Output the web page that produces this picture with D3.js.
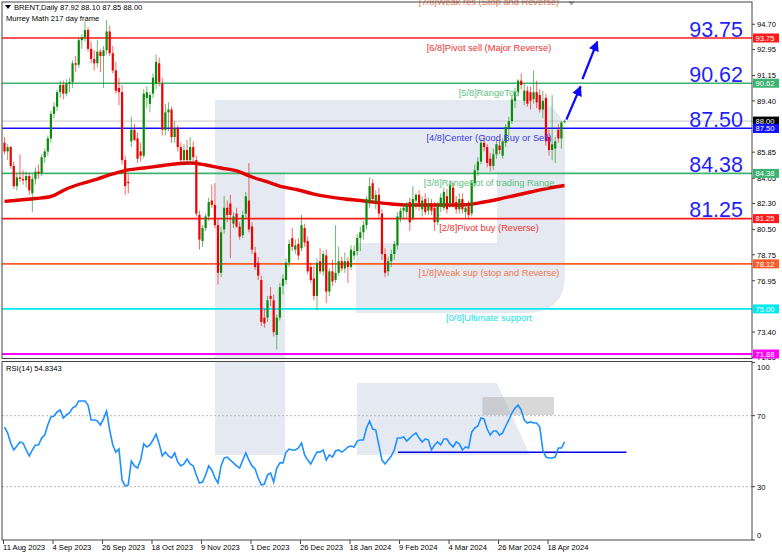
<!DOCTYPE html>
<html><head><meta charset="utf-8">
<script src="https://cdn.jsdelivr.net/npm/d3@7"></script>
<style>body{margin:0;background:#fff}svg{display:block}text{font-family:"Liberation Sans",Arial,sans-serif}</style>
</head><body><svg id="c" width="782" height="556"></svg>
<script>
// ---------------- DATA ----------------
const opens=[86.5,85.9,86.2,84.9,83.5,84.1,84.0,83.9,84.2,83.0,84.0,84.5,84.4,85.5,85.9,86.8,88.5,89.0,90.0,90.5,89.9,90.6,90.7,92.0,91.9,93.6,93.8,94.3,93.0,92.3,92.0,92.8,92.5,92.9,94.2,92.7,91.5,90.3,90.0,85.3,83.8,86.6,87.4,86.8,85.9,85.6,89.6,89.2,89.9,90.6,92.0,90.6,87.4,88.6,88.8,86.9,87.5,86.2,85.3,86.0,85.3,86.2,85.3,81.5,79.7,80.6,81.4,82.5,82.2,80.8,77.5,80.5,82.0,82.3,80.9,81.6,80.7,80.1,81.6,82.5,80.7,78.9,78.2,77.0,74.4,74.4,75.9,75.6,73.2,74.4,76.6,77.0,78.2,79.9,79.1,79.5,79.2,80.6,79.7,77.9,77.1,75.9,78.3,77.6,78.7,76.2,77.6,77.0,77.5,78.3,77.8,78.3,77.9,78.7,79.0,79.9,80.3,80.8,82.4,83.7,82.4,82.9,81.6,78.8,77.6,78.3,78.8,79.4,81.3,81.8,81.7,82.4,81.3,82.5,82.9,81.9,82.6,81.8,82.3,82.0,81.0,82.1,82.0,82.8,82.3,83.4,82.4,81.9,82.6,81.7,82.1,81.6,83.7,84.6,85.2,86.5,86.2,85.4,84.9,85.7,86.3,85.6,86.5,87.5,88.0,89.4,90.0,90.8,89.4,90.1,90.0,89.5,90.0,89.8,88.8,89.6,86.9,86.0,86.1,87.4,86.8,87.92];
const highs=[86.9,86.4,86.3,85.2,84.4,85.7,84.6,84.5,84.4,84.3,84.8,85.0,85.7,86.1,87.0,88.7,89.3,90.2,90.8,90.8,90.9,91.0,92.2,92.5,93.8,94.0,94.9,94.5,93.5,92.9,93.6,93.0,93.2,95.0,94.6,93.2,92.1,91.0,90.5,85.6,84.3,88.3,87.8,87.2,86.5,90.2,90.4,90.0,91.3,92.6,92.4,91.0,89.2,89.3,89.0,88.0,87.7,86.5,86.4,86.7,86.9,86.6,85.6,81.8,80.8,81.6,82.7,83.6,83.7,81.2,80.7,82.8,82.5,82.9,81.7,82.0,81.0,81.8,83.1,85.1,81.0,79.3,78.6,77.3,75.0,75.9,76.5,76.0,74.6,76.8,77.4,78.5,79.8,80.6,79.8,79.9,81.5,80.9,80.0,78.2,78.0,78.5,79.2,79.0,79.1,77.8,78.4,80.8,79.3,78.6,78.9,78.6,79.4,79.4,80.2,80.7,81.1,82.8,84.1,84.0,83.2,83.4,81.9,79.2,78.6,79.1,79.7,81.7,82.0,82.3,82.4,82.7,83.5,83.0,83.2,82.8,83.0,82.7,82.6,82.4,82.4,83.0,83.4,83.3,83.9,83.7,82.8,83.0,83.0,82.3,82.5,83.9,85.0,85.5,86.8,87.0,86.4,85.8,86.1,86.7,86.8,86.8,87.8,88.3,89.8,90.3,90.9,91.3,90.6,90.4,90.4,91.5,90.8,90.2,90.1,89.9,87.4,89.8,86.9,87.8,88.0,88.10];
const lows=[85.7,85.3,84.7,83.3,83.2,83.8,83.6,83.4,82.9,81.7,83.6,84.0,84.2,85.1,85.6,86.5,88.2,88.7,89.6,89.5,89.7,90.0,90.3,91.4,91.7,93.0,93.5,92.8,92.0,91.5,91.7,91.4,90.3,92.6,92.5,91.3,89.9,89.1,85.0,82.9,83.0,86.2,86.6,85.1,85.2,85.4,88.9,88.6,89.6,90.2,90.4,87.0,87.0,87.3,86.5,86.5,85.9,85.0,84.9,85.0,85.0,85.2,81.4,79.1,79.3,80.4,81.1,82.0,80.6,76.7,77.2,80.2,81.0,78.5,80.6,80.6,79.8,79.9,81.3,80.3,78.8,77.7,77.0,73.8,73.7,74.1,75.2,73.1,72.2,74.2,76.0,76.7,77.9,79.0,78.8,78.4,79.0,79.3,77.4,76.8,75.6,74.9,77.4,77.3,75.4,75.9,76.6,76.8,77.3,77.6,77.5,76.8,77.7,78.4,78.7,79.0,79.8,80.5,82.0,82.3,81.9,81.3,78.4,77.2,77.3,77.9,78.4,79.1,81.0,81.2,81.3,80.4,81.1,81.9,81.8,81.4,81.5,81.5,81.5,80.4,80.8,81.7,81.8,81.6,82.0,82.0,81.6,81.6,81.6,81.3,81.2,81.4,83.4,84.2,85.0,85.9,84.8,84.5,84.6,85.4,85.7,85.4,86.2,87.0,87.8,88.9,89.7,90.2,89.1,89.0,88.8,89.2,88.9,88.6,88.2,86.3,85.6,85.3,85.1,86.5,86.1,87.85];
const closes=[85.9,86.2,84.9,83.5,84.1,84.0,83.9,84.2,83.2,84.0,84.5,84.4,85.5,85.9,86.8,88.5,89.0,90.0,90.5,89.9,90.6,90.7,92.0,91.9,93.6,93.8,94.3,93.0,92.3,92.0,92.8,92.5,92.9,94.2,92.7,91.5,90.1,90.0,85.3,83.5,83.7,87.4,86.7,85.4,85.6,89.9,90.0,89.8,91.0,92.1,90.7,87.4,88.6,88.8,86.9,87.5,86.2,85.3,86.0,85.3,86.2,85.5,81.6,79.8,80.6,81.4,82.4,82.2,80.8,77.5,80.3,82.0,81.5,81.5,81.4,80.7,80.0,81.5,82.8,80.5,79.1,77.9,77.3,74.1,74.0,75.6,75.7,73.4,74.4,76.5,77.1,78.2,79.5,79.3,79.4,78.7,80.8,79.6,77.6,77.0,75.9,78.2,77.6,78.8,76.2,77.6,76.9,77.5,78.3,77.8,78.3,77.9,79.1,79.0,79.9,80.3,80.8,82.6,83.5,82.6,82.9,81.6,78.8,77.5,78.3,78.8,79.5,81.4,81.8,82.0,82.2,81.0,82.6,82.9,82.2,82.5,81.7,82.3,81.8,81.0,82.2,82.7,83.1,81.9,83.6,82.3,81.9,82.6,81.9,82.0,81.5,83.7,84.6,85.2,86.5,86.2,85.1,84.9,85.7,86.4,86.0,86.6,87.6,88.0,89.5,90.0,90.8,90.5,90.1,89.2,89.4,90.0,89.3,88.8,89.4,86.6,86.0,86.4,86.6,86.8,87.9,88.00];
// 200-day moving average, read weekly (bar index, value)
const maBars=[0,5,10,15,20,25,30,35,40,45,50,55,60,65,70,75,80,85,90,95,100,105,110,115,120,125,130,135,140,145,150,155,160,165,170,175,180,181];
const maValues=[82.44,82.54,82.64,82.78,83.30,83.68,83.99,84.34,84.62,84.75,84.89,85.03,85.10,84.96,84.75,84.55,84.13,83.79,83.44,83.23,82.95,82.75,82.61,82.50,82.37,82.26,82.19,82.19,82.19,82.19,82.23,82.40,82.61,82.85,83.09,83.33,83.51,83.54];
const rsiValues=[63.6,60.3,54.6,50.7,52.9,55.2,54.6,50.7,47.3,50.7,53.5,53.5,57.4,59.1,64.8,69.3,69.8,72.1,73.2,68.7,70.4,71.5,74.3,75.4,78.3,78.3,78.3,76.0,67.6,67.6,67.0,64.8,68.2,72.6,61.9,53.5,49.5,51.2,33.8,30.4,31.0,44.5,41.7,40.5,45.0,54.1,52.4,53.5,56.3,59.7,54.1,47.3,49.5,47.3,46.2,49.0,43.9,41.7,42.8,45.6,42.8,41.7,36.6,32.1,32.6,36.6,41.7,39.4,34.9,32.1,41.7,46.2,46.7,45.0,43.4,41.7,40.5,45.0,49.0,45.0,41.7,40.0,34.9,31.0,31.5,36.6,37.7,32.6,40.5,43.4,43.4,49.5,51.2,50.7,50.7,51.8,54.6,47.9,45.0,42.8,46.2,49.5,49.5,50.7,45.0,47.9,46.7,50.1,50.7,49.5,50.7,52.4,52.9,52.4,55.7,56.3,56.3,63.1,67.0,62.5,61.9,53.5,45.0,42.8,45.0,47.3,50.7,57.4,57.4,58.0,55.7,57.4,59.1,60.3,57.4,55.2,56.9,56.3,50.7,53.5,55.2,53.5,56.9,56.9,54.1,52.4,55.2,54.1,50.7,52.4,51.8,60.8,63.1,64.2,68.7,68.2,62.5,59.1,61.4,61.4,59.1,60.3,64.2,67.6,71.5,74.3,76.0,73.2,67.6,65.9,66.5,65.9,65.9,63.6,50.7,46.7,46.2,46.2,46.7,51.8,51.8,55.2];
const levelValues=[96.88,93.75,90.62,87.50,84.38,81.25,78.12,75.00,71.88];
const levelNames=["[7/8]Weak res (Stop and Reverse)","[6/8]Pivot sell (Major Reverse)","[5/8]RangeTop","[4/8]Center (Good Buy or Sell)","[3/8]RangeBot of trading Range","[2/8]Pivot buy (Reverse)","[1/8]Weak sup (stop and Reverse)","[0/8]Ultimate support","[-1/8]buy (Oversold)"];
const bigLabels=[93.75,90.62,87.50,84.38,81.25];
const priceTicks=[94.70,92.95,91.15,89.40,85.85,84.05,82.30,80.50,78.75,76.95,73.40,71.65];
const rsiTicks=[100,70,30,0];
const dateBars=[0,16,32,48,64,80,96,112,128,144,160,176];
const dateLabels=["11 Aug 2023","4 Sep 2023","26 Sep 2023","18 Oct 2023","9 Nov 2023","1 Dec 2023","26 Dec 2023","18 Jan 2024","9 Feb 2024","4 Mar 2024","26 Mar 2024","18 Apr 2024"];
const lastPrice=88.00;
const header="BRENT,Daily  87.92 88.10 87.85 88.00";
const rsiHeader="RSI(14) 54.8343";
const arrows=[{b0:181.6,p0:88.1,b1:186.2,p1:90.4},{b0:186.8,p0:90.9,b1:191.6,p1:93.5}];
const rsiSupport={b0:127.2,b1:201,v:49.4};
const rsiBox={b0:154.5,b1:177.6,v0:70.4,v1:80.5};
const labelBar=156.6;

// ---------------- DRAW ----------------
const svg=d3.select("#c");
const L=2,R=752,mT=2,mB=358.5,rT=361.5,rB=540;
const x=d3.scaleLinear().domain([0,241.6]).range([4.5,752]);
const y=d3.scaleLinear().domain([71.88,93.75]).range([354,38]);
const yr=d3.scaleLinear().domain([30,70]).range([486.7,415.7]);
const levelColors=["#ff5a2a","#ff1a1a","#3cb371","#1010ff","#3cb371","#ff1a1a","#ff5a2a","#00e8f0","#ff00ff"];
const levelText=["#f07850","#ee3030","#5cbf80","#3a3ae8","#5cbf80","#ee3030","#f07850","#20e0e8","#e020e0"];

svg.append("rect").attr("width",782).attr("height",556).attr("fill","#fff");
const defs=svg.append("defs");
defs.append("clipPath").attr("id","cm").append("rect").attr("x",L).attr("y",mT).attr("width",R-L).attr("height",mB-mT);
defs.append("clipPath").attr("id","cr").append("rect").attr("x",L).attr("y",rT).attr("width",R-L).attr("height",rB-rT);
defs.append("marker").attr("id","ah").attr("viewBox","0 0 10 10").attr("refX",9).attr("refY",5)
  .attr("markerWidth",4.5).attr("markerHeight",4.5).attr("orient","auto")
  .append("path").attr("d","M0,0L10,5L0,10z").attr("fill","#0a0aff");

// watermark logo
const wm=svg.append("g").attr("fill","#e5eaf2");
wm.append("path").attr("clip-path","url(#cm)").attr("d","M215,100H525Q565,100 565,140V275Q565,313 525,313H356V243H497V172H285V360H215Z");
wm.append("path").attr("clip-path","url(#cr)").attr("d","M215,355H285V455H215Z M357,383H497L530,455H357Z");

// main panel
const gm=svg.append("g").attr("clip-path","url(#cm)");
gm.append("line").attr("x1",L).attr("x2",R).attr("y1",y(lastPrice)).attr("y2",y(lastPrice)).attr("stroke","#c4c4c4").attr("stroke-width",1);
levelValues.forEach((v,i)=>{
  gm.append("line").attr("x1",L).attr("x2",R).attr("y1",y(v)).attr("y2",y(v))
    .attr("stroke",levelColors[i]).attr("stroke-width",i===8?2.2:1.6);
});
gm.append("path").datum(maBars.map((b,i)=>[b,maValues[i]]))
  .attr("d",d3.line().x(d=>x(d[0])).y(d=>y(d[1])).curve(d3.curveMonotoneX))
  .attr("fill","none").attr("stroke","#e40000").attr("stroke-width",3.4);
const cg=gm.append("g");
closes.forEach((c,i)=>{
  const o=opens[i],up=c>=o,col=up?"#0b8a0b":"#f00000",cx=x(i);
  cg.append("line").attr("x1",cx).attr("x2",cx).attr("y1",y(highs[i])).attr("y2",y(lows[i]))
    .attr("stroke",col).attr("stroke-width",1).attr("stroke-opacity",0.6);
  const t=y(Math.max(o,c)),h=Math.max(1,Math.abs(y(o)-y(c)));
  cg.append("rect").attr("x",cx-1.1).attr("width",2.2).attr("y",t).attr("height",h).attr("fill",col);
});
levelValues.forEach((v,i)=>{
  if(i===0) return;
  gm.append("text").attr("x",x(labelBar)).attr("y",y(v)+12.5).attr("text-anchor","middle")
    .attr("font-size",9.3).attr("fill",levelText[i]).text(levelNames[i]);
});
svg.append("text").attr("x",x(labelBar)).attr("y",y(levelValues[0])+12.5).attr("text-anchor","middle")
  .attr("font-size",9.3).attr("fill",levelText[0]).text(levelNames[0]);
svg.append("path").attr("d","M568,1.5L575,1.5L571.5,5.5Z").attr("fill","#a8a8a8");
bigLabels.forEach(v=>{
  gm.append("text").attr("x",743).attr("y",y(v)-1.2).attr("text-anchor","end")
    .attr("font-size",21.5).attr("fill","#1f1fff").text(v.toFixed(2));
});
arrows.forEach(a=>{
  gm.append("line").attr("x1",x(a.b0)).attr("y1",y(a.p0)).attr("x2",x(a.b1)).attr("y2",y(a.p1))
    .attr("stroke","#0a0aff").attr("stroke-width",2.3).attr("marker-end","url(#ah)");
});
svg.append("path").attr("d","M5,5L11,5L8,9Z").attr("fill","#000");
svg.append("text").attr("x",14).attr("y",10).attr("font-size",7.6).attr("fill","#000").text(header);
svg.append("text").attr("x",6).attr("y",21).attr("font-size",7.6).attr("fill","#000").text("Murrey Math 217 day frame");

// RSI panel
const gr=svg.append("g").attr("clip-path","url(#cr)");
gr.append("rect").attr("x",x(rsiBox.b0)).attr("width",x(rsiBox.b1)-x(rsiBox.b0)).attr("y",yr(rsiBox.v1)).attr("height",yr(rsiBox.v0)-yr(rsiBox.v1))
  .attr("fill","#a8a8a8").attr("fill-opacity",0.45);
[70,30].forEach(v=>gr.append("line").attr("x1",L).attr("x2",R).attr("y1",yr(v)).attr("y2",yr(v))
  .attr("stroke","#b8b8b8").attr("stroke-dasharray","2,2").attr("stroke-width",1));
gr.append("line").attr("x1",x(rsiSupport.b0)).attr("x2",x(rsiSupport.b1)).attr("y1",yr(rsiSupport.v)).attr("y2",yr(rsiSupport.v))
  .attr("stroke","#0000e0").attr("stroke-width",1.6);
gr.append("path").datum(rsiValues).attr("d",d3.line().x((d,i)=>x(i)).y(d=>yr(d)))
  .attr("fill","none").attr("stroke","#1e90ff").attr("stroke-width",1.6);
svg.append("text").attr("x",6).attr("y",371).attr("font-size",7.6).attr("fill","#000").text(rsiHeader);

// frames
svg.append("rect").attr("x",L).attr("y",mT).attr("width",R-L).attr("height",mB-mT).attr("fill","none").attr("stroke","#444").attr("stroke-width",1);
svg.append("rect").attr("x",L).attr("y",rT).attr("width",R-L).attr("height",rB-rT).attr("fill","none").attr("stroke","#444").attr("stroke-width",1);

// price axis
const ax=svg.append("g").attr("font-size",7.6);
priceTicks.forEach(v=>{
  ax.append("line").attr("x1",R).attr("x2",R+3).attr("y1",y(v)).attr("y2",y(v)).attr("stroke","#444");
  ax.append("text").attr("x",R+5).attr("y",y(v)+2.8).attr("fill","#000").text(v.toFixed(2));
});
const badge=(v,col)=>{
  ax.append("rect").attr("x",R+1).attr("y",y(v)-4.5).attr("width",26).attr("height",9).attr("fill",col);
  ax.append("text").attr("x",R+3.5).attr("y",y(v)+2.8).attr("fill","#fff").text(v.toFixed(2));
};
levelValues.forEach((v,i)=>{ if(i>0) badge(v,levelColors[i]); });
badge(lastPrice,"#000");
badge(levelValues[3],levelColors[3]);
rsiTicks.forEach(v=>{
  const yy=Math.min(Math.max(yr(v),rT+6),rB-5);
  ax.append("line").attr("x1",R).attr("x2",R+3).attr("y1",yr(v)).attr("y2",yr(v)).attr("stroke","#444");
  ax.append("text").attr("x",R+5).attr("y",yy+2.8).attr("fill","#000").text(v);
});
dateBars.forEach((b,i)=>{
  ax.append("line").attr("x1",x(b)-1).attr("x2",x(b)-1).attr("y1",rB).attr("y2",rB+4).attr("stroke","#444");
  ax.append("text").attr("x",x(b)-1.5).attr("y",550).attr("fill","#000").text(dateLabels[i]);
});
</script></body></html>
